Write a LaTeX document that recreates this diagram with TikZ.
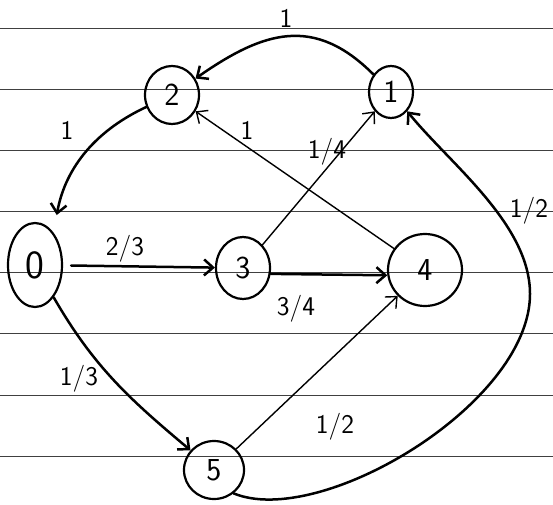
\documentclass[tikz,border=0pt]{standalone}
\usepackage{fontspec}
\usepackage{tikz}
\usetikzlibrary{positioning,shapes.geometric,arrows.meta,calc}

\begin{document}
\begin{tikzpicture}[
    x=1pt, y=1pt,
    >={Straight Barb[length=9pt,width=16pt]},
    line cap=round,
    font=\sffamily\fontsize{32}{34}\selectfont,
    state/.style={
        draw=black,
        line width=2.2pt,
        ellipse,
        inner sep=0pt
    },
    prob/.style={
        font=\sffamily\fontsize{27}{29}\selectfont
    },
    arr/.style={->, line width=2.5pt},
    thinarr/.style={->, line width=1.4pt},
    rule/.style={draw=black!75, line width=0.9pt}
]

\fill[white] (0,0) rectangle (553,504);
\useasboundingbox (0,0) rectangle (553,504);

\foreach \y in {476,415,354,293,232,171,109,48}
    \draw[rule] (0,\y) -- (553,\y);

\node[state, minimum width=54pt, minimum height=84pt] (zero) at (35,239)
    {\fontsize{40}{40}\selectfont 0};
\node[state, minimum width=54pt, minimum height=58pt] (two) at (172,409) {2};
\node[state, minimum width=44pt, minimum height=52pt] (one) at (391,412) {1};
\node[state, minimum width=54pt, minimum height=62pt] (three) at (243,236) {3};
\node[state, minimum width=74pt, minimum height=72pt] (four) at (425,234) {4};
\node[state, minimum width=60pt, minimum height=58pt] (five) at (214,34) {5};

\coordinate (swing) at (530,210);

\draw[arr] (one) to[out=135,in=35,looseness=1.2] (two);
\draw[arr, shorten >=18pt] (two) to[out=205,in=80] (zero.60);
\draw[thinarr] (four) -- (two);
\draw[thinarr] (three) -- (one);
\draw[arr, shorten <=8pt] (zero) -- (three);
\draw[arr] (three.-12) -- (four.-172);
\draw[arr] (zero) to[out=-60,in=140] (five);
\draw[thinarr] (five) -- (four);
\draw[arr] (five.-50) .. controls (320,-25) and (530,100) .. (swing)
    .. controls (530,280) and (450,340) .. (one.-50);

\node[prob] (p12) at (286,486) {1};
\node[prob] (p20) at (67,374) {1};
\node[prob] (p42) at (247,374) {1};
\node[prob] (p31) at (327,352) {1/4};
\node[prob] (p03) at (125,255) {2/3};
\node[prob] (p34) at (296,195) {3/4};
\node[prob] (p05) at (79,125) {1/3};
\node[prob] (p54) at (335,77) {1/2};
\node[prob] (p51) at (529,293) {1/2};

\end{tikzpicture}
\end{document}
